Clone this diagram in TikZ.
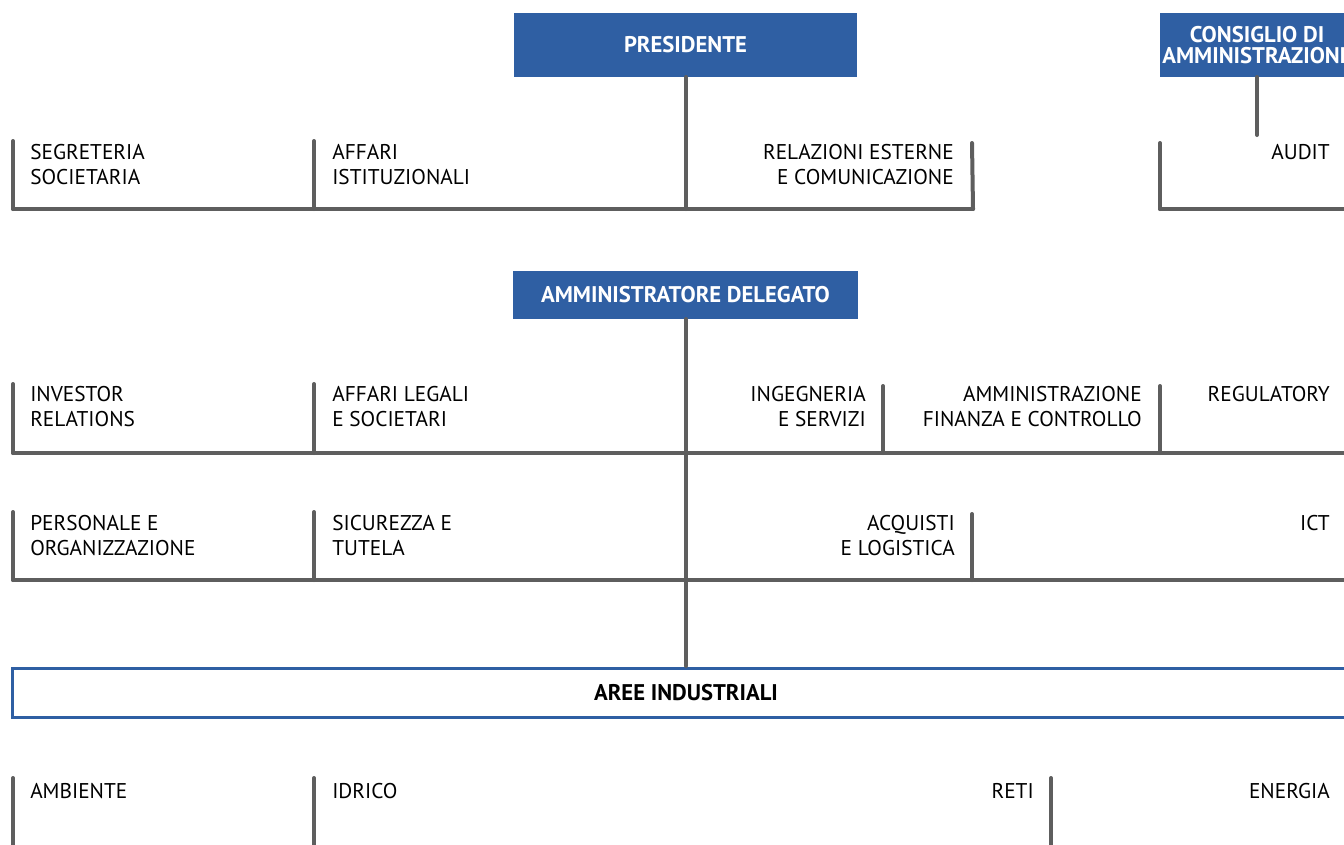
\documentclass[tikz,border=0pt]{standalone}
\usepackage{fontspec}
\setmainfont{PT Sans}
\usepackage{tkz-euclide}
\definecolor{HeadClr}{RGB}{47,95,163}
\definecolor{LineClr}{RGB}{94,94,94}

\begin{document}
\begin{tikzpicture}[x=0.75pt,y=-0.75pt,
  head/.style={fill=HeadClr,text=white,inner sep=0pt,align=center,
    font=\fontsize{17}{16}\selectfont\bfseries},
  unitL/.style={anchor=base west,align=left,inner sep=0pt,
    font=\fontsize{16}{18.75}\selectfont},
  unitR/.style={anchor=base east,align=right,inner sep=0pt,
    font=\fontsize{16}{18.75}\selectfont}]
\useasboundingbox (0,0) rectangle (1344,844);
\clip (0,0) rectangle (1344,844);
\tkzSetUpLine[line width=3pt,color=LineClr]

% boxes
\node[head,minimum width=257.25pt,minimum height=48pt] (pres) at (685.5,45) {PRESIDENTE};
\node[head,minimum width=145.5pt,minimum height=48pt] (cda) at (1257,45) {CONSIGLIO DI\\AMMINISTRAZIONE};
\node[head,minimum width=258.75pt,minimum height=36pt] (ad) at (685.5,295) {AMMINISTRATORE DELEGATO};
\node[draw=HeadClr,line width=2.25pt,fill=white,inner sep=0pt,minimum width=1011pt,minimum height=36.75pt,
  font=\fontsize{17}{16}\selectfont\bfseries] (aree) at (686,692.5) {AREE INDUSTRIALI};

% points
\tkzDefPoints{686/77/Pa,686/209/Pb,13/209/Ra,973/209/Rb,13/141/Rc,314/141/Rd,314/209/Re,972/143/Rf}
\tkzDefPoints{1257/77/Ca,1257/135/Cb,1160/143/Cc,1160/209/Cd,1360/209/Ce}
\tkzDefPoints{686/319/Da,686/666/Db}
\tkzDefPoints{13/453/Sa,1360/453/Sb,13/384/Sc,314/384/Sd,314/453/Se,883/386/Sf,883/453/Sg,1160/386/Sh,1160/453/Si}
\tkzDefPoints{13/580/Ta,1360/580/Tb,13/512/Tc,314/512/Td,314/580/Te,972/514/Tf,972/580/Tg}
\tkzDefPoints{13/778/Ua,13/850/Ub,314/778/Uc,314/850/Ud,1051/778/Ue,1051/850/Uf}

% connectors
\tkzDrawSegments(Pa,Pb Ra,Rb Rc,Ra Rd,Re Rf,Rb)
\tkzDrawSegments(Ca,Cb Cc,Cd Cd,Ce)
\tkzDrawSegments(Da,Db Sa,Sb Sc,Sa Sd,Se Sf,Sg Sh,Si)
\tkzDrawSegments(Ta,Tb Tc,Ta Td,Te Tf,Tg)
\tkzDrawSegments(Ua,Ub Uc,Ud Ue,Uf)

% labels (base = last line)
\node[unitL] (segr) at (30,184) {SEGRETERIA\\SOCIETARIA};
\node[unitL] (istit) at (332,184) {AFFARI\\ISTITUZIONALI};
\node[unitR] (relaz) at (954,184) {RELAZIONI ESTERNE\\E COMUNICAZIONE};
\node[unitR] (audit) at (1330,159) {AUDIT};

\node[unitL] (inv) at (30,426) {INVESTOR\\RELATIONS};
\node[unitL] (legal) at (332,426) {AFFARI LEGALI\\E SOCIETARI};
\node[unitR] (ing) at (866,426) {INGEGNERIA\\E SERVIZI};
\node[unitR] (afc) at (1142,426) {AMMINISTRAZIONE\\FINANZA E CONTROLLO};
\node[unitR] (reg) at (1330,401) {REGULATORY};

\node[unitL] (pers) at (30,555) {PERSONALE E\\ORGANIZZAZIONE};
\node[unitL] (sic) at (332,555) {SICUREZZA E\\TUTELA};
\node[unitR] (acq) at (955,555) {ACQUISTI\\E LOGISTICA};
\node[unitR] (ict) at (1330,530) {ICT};

\node[unitL] (amb) at (30,798) {AMBIENTE};
\node[unitL] (idr) at (332,798) {IDRICO};
\node[unitR] (reti) at (1034,798) {RETI};
\node[unitR] (ener) at (1330,798) {ENERGIA};
\end{tikzpicture}
\end{document}
